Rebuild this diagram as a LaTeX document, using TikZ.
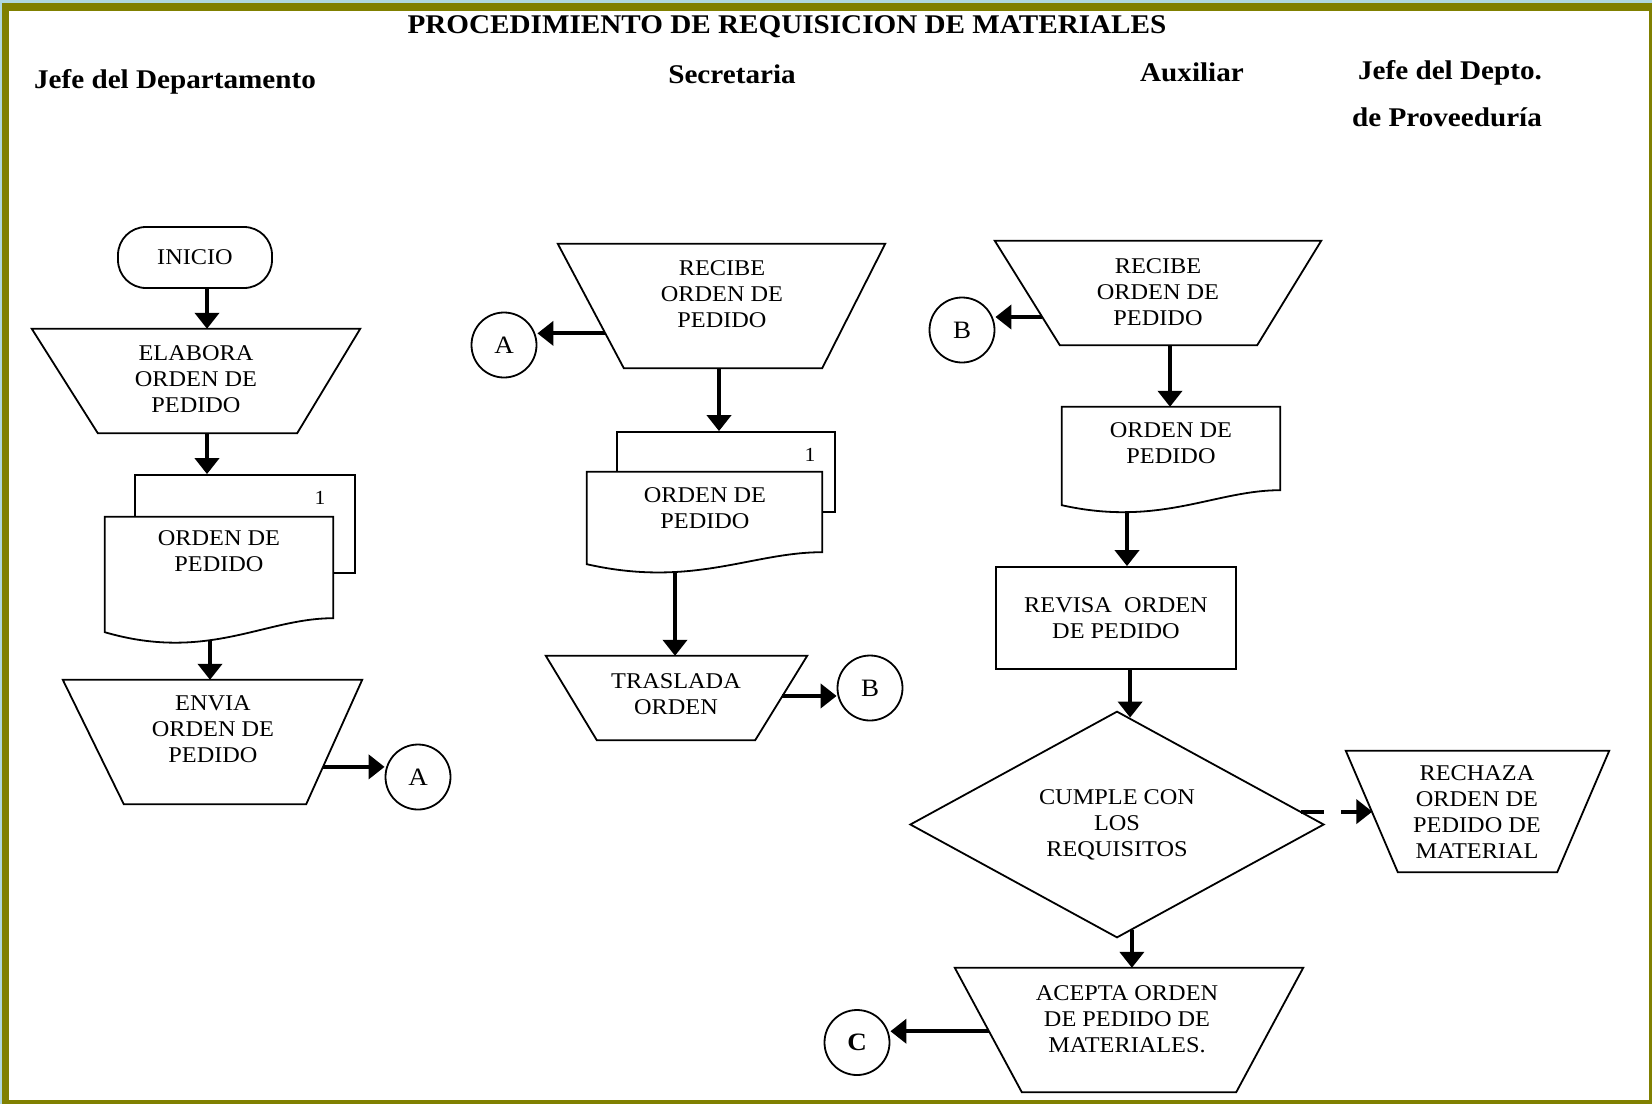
\documentclass[tikz,border=0pt]{standalone}
\usepackage{fontspec}
\setmainfont{Liberation Serif}[FakeStretch=1.08]
\usetikzlibrary{arrows.meta,calc,shapes.geometric}
\definecolor{frameolive}{HTML}{808000}
\definecolor{framesky}{HTML}{B0D8E0}
% document symbol drawn on an invisible frame node:
% #1 frame node, #2 rise of the right end, #3 dip of the wavy bottom
\newcommand\docpath[3]{%
  \draw[shapeline, fill=white] (#1.north west) -- (#1.north east)
    -- ($(#1.south east)+(0,-#2)$)
    .. controls ($(#1.south west)!0.7!(#1.south east)+(0,-#2)$)
    and ($(#1.south west)!0.45!(#1.south east)+(0,#3)$) .. (#1.south west) -- cycle;}
% manual-operation symbol (wide top, narrow bottom):
% #1 name, #2 centre, #3 top width, #4 height, #5 left inset, #6 right inset
\newcommand\manualop[6]{%
  \node[frm, minimum width=#3, minimum height=#4] (#1) at #2 {};
  \coordinate (#1-bl) at ($(#1.south west)+(#5,0)$);
  \coordinate (#1-br) at ($(#1.south east)+(-#6,0)$);
  \draw[shapeline, fill=white] (#1.north west) -- (#1.north east) -- (#1-br) -- (#1-bl) -- cycle;}
\begin{document}
\begin{tikzpicture}[x=1pt,y=-1pt,
  shapeline/.style={line width=1.8pt},
  txt/.style={font=\fontsize{22.5}{26}\selectfont, align=center, inner sep=0pt},
  hdr/.style={font=\fontsize{27}{30}\selectfont\bfseries, anchor=base, inner sep=0pt},
  arr/.style={line width=4pt, -{Triangle[length=16pt,width=24pt]}},
  frm/.style={inner sep=0pt},
  circ/.style={circle, draw, shapeline, fill=white, minimum size=65pt, inner sep=0pt, font=\fontsize{25}{27}\selectfont},
  box/.style={draw, shapeline, inner sep=0pt},
  numtxt/.style={inner sep=0pt, font=\fontsize{20}{22}\selectfont}]

% page frame
\fill[framesky] (0,0) rectangle (1652,1104);
\fill[frameolive] (2,3) rectangle (1652,1104);
\fill[white] (9,11) rectangle (1649,1100);
\useasboundingbox (0,0) rectangle (1652,1104);

% title and lanes
\node[hdr] (title) at (787,33) {PROCEDIMIENTO DE REQUISICION DE MATERIALES};
\node[hdr] (lane1) at (175,88) {Jefe del Departamento};
\node[hdr] (lane2) at (732,83.5) {Secretaria};
\node[hdr] (lane3) at (1192,81) {Auxiliar};
\node[hdr] (lane4a) at (1450,79) {Jefe del Depto.};
\node[hdr] (lane4b) at (1447,126.5) {de Proveeduría};

% --- Jefe del Departamento ---
\node[box, txt, rounded corners=28pt, minimum width=154pt, minimum height=61pt] (inicio) at (195,257.5) {INICIO};
\manualop{elabora}{(196,381)}{328pt}{104pt}{66}{63}
\node[txt] (elabora-t) at (196,379) {ELABORA\\ORDEN DE\\PEDIDO};
\node[box, fill=white, minimum width=220pt, minimum height=98pt] (d1back) at (245,524) {};
\node[numtxt] (d1num) at (320,498) {1};
\node[frm, minimum width=228pt, minimum height=115pt] (d1) at (219,574.5) {};
\docpath{d1}{14}{30}
\node[txt] (d1-t) at (219,551) {ORDEN DE\\PEDIDO};
\manualop{envia}{(212.5,742)}{299pt}{124pt}{61}{56}
\node[txt] (envia-t) at (213,729) {ENVIA\\ORDEN DE\\PEDIDO};
\node[circ] (ca1) at (418,777) {A};

% --- Secretaria ---
\manualop{recibe2}{(721.5,306)}{327pt}{124pt}{66}{63}
\node[txt] (recibe2-t) at (722,294) {RECIBE\\ORDEN DE\\PEDIDO};
\node[circ] (ca2) at (504,345) {A};
\node[box, fill=white, minimum width=218pt, minimum height=80pt] (d2back) at (726,472) {};
\node[numtxt] (d2num) at (810,455) {1};
\node[frm, minimum width=235pt, minimum height=92pt] (d2) at (704.5,518) {};
\docpath{d2}{12}{24}
\node[txt] (d2-t) at (705,508) {ORDEN DE\\PEDIDO};
\manualop{traslada}{(676.5,698)}{261pt}{84pt}{51}{52}
\node[txt] (traslada-t) at (676,694) {TRASLADA\\ORDEN};
\node[circ] (cb1) at (870,688) {B};

% --- Auxiliar ---
\manualop{recibe3}{(1158,293)}{326pt}{104pt}{65}{64}
\node[txt] (recibe3-t) at (1158,292) {RECIBE\\ORDEN DE\\PEDIDO};
\node[circ] (cb2) at (962,330) {B};
\node[frm, minimum width=218pt, minimum height=98pt] (d3) at (1171,456) {};
\docpath{d3}{15}{22}
\node[txt] (d3-t) at (1171,443) {ORDEN DE\\PEDIDO};
\node[box, txt, minimum width=240pt, minimum height=102pt] (revisa) at (1116,618) {REVISA\ \ ORDEN\\DE PEDIDO};
\node[diamond, draw, shapeline, txt, minimum width=414pt, minimum height=187pt] (cumple) at (1117,824.5) {CUMPLE CON\\LOS\\REQUISITOS};
\manualop{acepta}{(1129,1030)}{348pt}{124pt}{67}{67}
\node[txt] (acepta-t) at (1127,1019) {ACEPTA ORDEN\\DE PEDIDO DE\\MATERIALES.};
\node[circ, font=\fontsize{25}{27}\selectfont\bfseries] (cc) at (857,1042.5) {C};

% --- Jefe del Depto. de Proveeduria ---
\manualop{rechaza}{(1477.5,811.5)}{263pt}{121pt}{52}{52}
\node[txt] (rechaza-t) at (1477,812.5) {RECHAZA\\ORDEN DE\\PEDIDO DE\\MATERIAL};

% points on the slanted sides where side connectors leave or arrive
\coordinate (envia-out) at ($(envia.north east)!0.70!(envia-br)$);
\coordinate (recibe2-out) at ($(recibe2.north west)!0.72!(recibe2-bl)$);
\coordinate (traslada-out) at ($(traslada.north east)!0.476!(traslada-br)$);
\coordinate (recibe3-out) at ($(recibe3.north west)!0.73!(recibe3-bl)$);
\coordinate (acepta-out) at ($(acepta.north west)!0.51!(acepta-bl)$);
\coordinate (rechaza-in) at ($(rechaza.north west)!0.51!(rechaza-bl)$);

% connectors
\draw[arr] (inicio.south -| 207,0) -- (elabora.north -| 207,0);
\draw[arr] (elabora.south -| 207,0) -- (d1back.north -| 207,0);
\coordinate (d1out) at (210,640);
\draw[arr] (d1out) -- (envia.north -| d1out);
\draw[arr] (envia-out) -- (envia-out -| ca1.west);

\draw[arr] (recibe2-out) -- (recibe2-out -| ca2.east);
\draw[arr] (recibe2.south -| 719,0) -- (d2back.north -| 719,0);
\coordinate (d2out) at (675,571);
\draw[arr] (d2out) -- (traslada.north -| d2out);
\draw[arr] (traslada-out) -- (traslada-out -| cb1.west);

\draw[arr] (recibe3-out) -- (recibe3-out -| cb2.east);
\draw[arr] (recibe3.south -| 1170,0) -- (d3.north -| 1170,0);
\coordinate (d3out) at (1127,511);
\draw[arr] (d3out) -- (revisa.north -| d3out);
\draw[arr] (revisa.south -| cumple.83) -- (cumple.83);
\draw[arr, dash pattern=on 23pt off 17pt on 200pt] (cumple.4) -- (cumple.4 -| rechaza-in);
\draw[arr] (cumple.-82) -- (cumple.-82 |- acepta.north);
\draw[arr] (acepta-out) -- (acepta-out -| cc.east);
\end{tikzpicture}
\end{document}
